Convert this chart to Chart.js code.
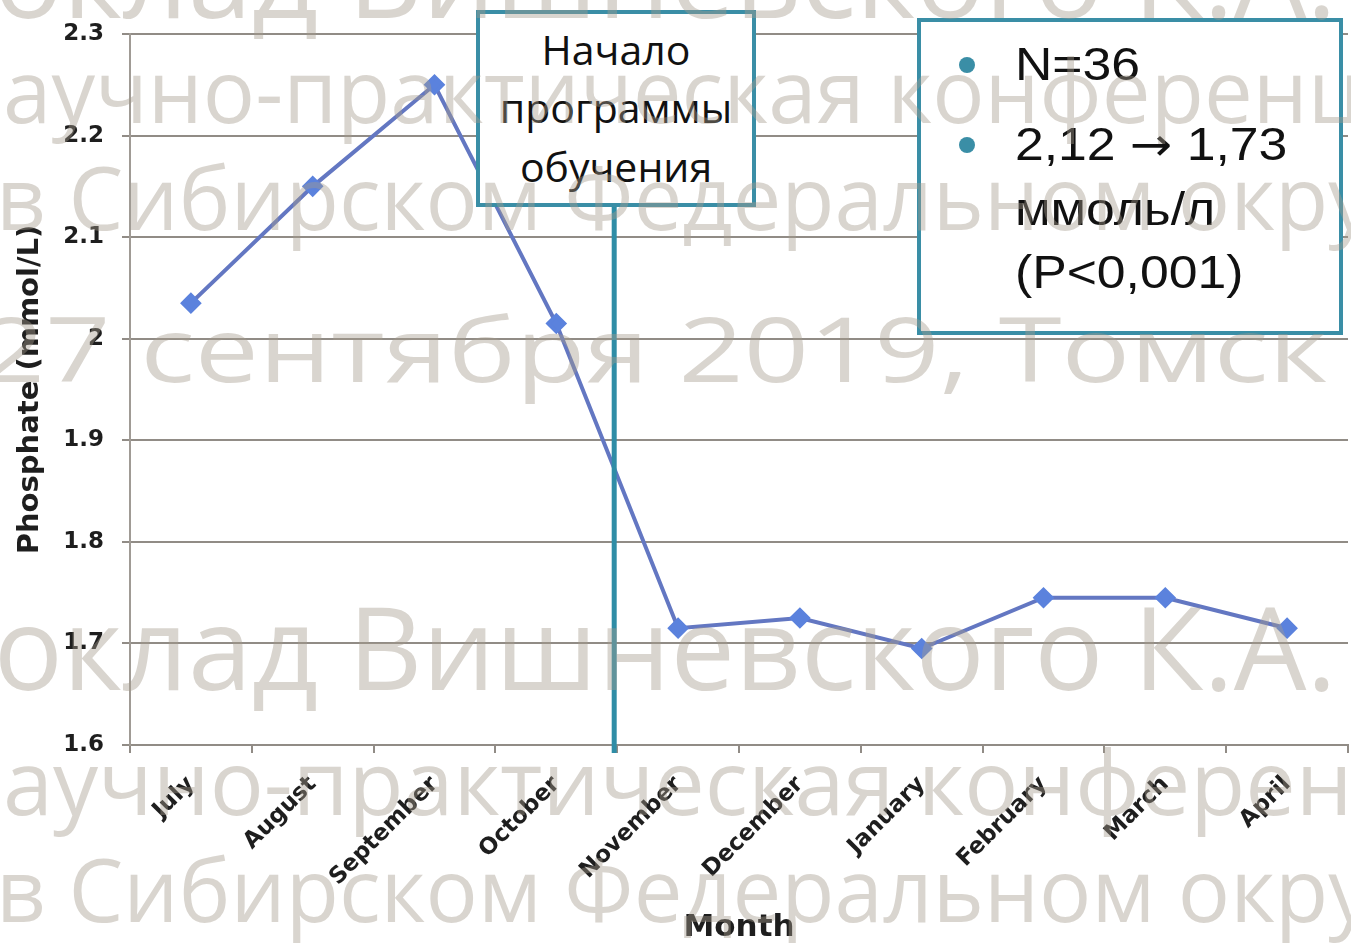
<!DOCTYPE html>
<html>
<head>
<meta charset="utf-8">
<script src="https://cdn.jsdelivr.net/npm/chart.js@4.4.1/dist/chart.umd.min.js"></script>
<style>
  html, body { margin: 0; padding: 0; background: #ffffff; overflow: hidden; width: 1351px; height: 947px; }
  #wrap { position: absolute; left: 0; top: 0; width: 1360px; height: 947px; }
  #overlay { position: absolute; left: 0; top: 0; width: 1351px; height: 947px; pointer-events: none; }
</style>
</head>
<body>
<div id="wrap"><canvas id="chart" width="1360" height="947"></canvas></div>
<svg id="overlay" width="1351" height="947" xmlns="http://www.w3.org/2000/svg">
  <!-- callout 1 -->
  <rect x="478" y="12" width="276" height="193" fill="#ffffff" stroke="#3a8ea6" stroke-width="4"/>
  <g font-family="'Open Sans', 'Noto Sans', sans-serif" font-size="41" fill="#111" text-anchor="middle">
    <text x="616" y="65">Начало</text>
    <text x="616" y="123">программы</text>
    <text x="616" y="182">обучения</text>
  </g>
  <!-- callout 2 -->
  <rect x="919" y="20" width="422" height="313" fill="#ffffff" stroke="#3a8ea6" stroke-width="4"/>
  <circle cx="967" cy="65" r="8" fill="#3a8ea6"/>
  <circle cx="967" cy="145" r="8" fill="#3a8ea6"/>
  <g font-family="'Liberation Sans', Arial, sans-serif" font-size="47" fill="#111" transform="translate(1015,0) scale(1.1,1)">
    <text x="0" y="80">N=36</text>
    <text x="0" y="160">2,12 <tspan font-family="'DejaVu Sans', sans-serif" font-size="46">→</tspan> 1,73</text>
    <text x="0" y="225">ммоль/л</text>
    <text x="0" y="288">(P&lt;0,001)</text>
  </g>
  <!-- watermark -->
  <g font-family="'Open Sans', 'Noto Sans', sans-serif" fill="rgb(165,155,140)" fill-opacity="0.42">
    <text x="-85" y="18" font-size="115">Доклад Вишневского К.А.</text>
    <text x="-52" y="123" font-size="87">научно-практическая конференция</text>
    <text x="-4" y="230" font-size="87">в Сибирском Федеральном округе</text>
    <text transform="translate(-20,382) scale(1.268,1)" x="0" y="0" font-size="90">27 сентября 2019, Томск</text>
    <text x="-85" y="690" font-size="115">Доклад Вишневского К.А.</text>
    <text x="-54" y="815" font-size="90">научно-практическая конференция</text>
    <text x="-4" y="922" font-size="87">в Сибирском Федеральном округе</text>
  </g>
</svg>
<script>
const months = ['July', 'August', 'September', 'October', 'November', 'December', 'January', 'February', 'March', 'April'];
const phosphate = [2.035, 2.15, 2.25, 2.015, 1.715, 1.725, 1.695, 1.745, 1.745, 1.715];
const yTicks = [1.6, 1.7, 1.8, 1.9, 2.0, 2.1, 2.2, 2.3];
const yTitle = 'Phosphate (mmol/L)';
const xTitle = 'Month';
const programStartAfterIndex = 3; // between October and November

const boldFont = "'DejaVu Sans', sans-serif";
const gridColor = '#918c86';

const startLine = {
  id: 'startLine',
  afterDatasetsDraw(chart) {
    const x = chart.scales.x;
    const px = (x.getPixelForValue(programStartAfterIndex) + x.getPixelForValue(programStartAfterIndex + 1)) / 2 - 3;
    const ctx = chart.ctx;
    ctx.save();
    ctx.strokeStyle = '#2f8da6';
    ctx.lineWidth = 5;
    ctx.beginPath();
    ctx.moveTo(px, 205);
    ctx.lineTo(px, chart.chartArea.bottom + 8);
    ctx.stroke();
    ctx.restore();
  }
};

new Chart(document.getElementById('chart'), {
  type: 'line',
  data: {
    labels: months,
    datasets: [{
      data: phosphate,
      borderColor: '#6377c2',
      borderWidth: 4,
      pointStyle: 'rectRot',
      pointRadius: 8,
      pointBackgroundColor: '#5b82dd',
      pointBorderColor: '#5b82dd',
      tension: 0
    }]
  },
  options: {
    responsive: false,
    animation: false,
    devicePixelRatio: 1,
    layout: { padding: { top: 34, right: 6, left: 0, bottom: 0 } },
    plugins: { legend: { display: false }, tooltip: { enabled: false } },
    scales: {
      x: {
        offset: true,
        afterFit(scale) { scale.height = 202; },
        grid: { offset: true, drawOnChartArea: false, drawTicks: true, tickLength: 8, color: gridColor, lineWidth: 2 },
        border: { display: true, color: gridColor, width: 2 },
        ticks: {
          autoSkip: false, minRotation: 45, maxRotation: 45, padding: 18,
          color: '#1e1e1e', font: { family: boldFont, size: 23, weight: 'bold' }
        },
        title: { display: true, text: xTitle, color: '#1e1e1e', padding: { top: 0, bottom: 0 },
          font: { family: boldFont, size: 31, weight: 'bold' } }
      },
      y: {
        min: 1.6, max: 2.3,
        afterFit(scale) { scale.width = 130; },
        afterBuildTicks(scale) { scale.ticks = yTicks.map(v => ({ value: v })); },
        grid: { color: gridColor, lineWidth: 2, tickLength: 8 },
        border: { display: true, color: '#a09b95', width: 2 },
        ticks: {
          padding: 18, color: '#1e1e1e',
          font: { family: boldFont, size: 23, weight: 'bold' },
          callback: (v) => (Math.round(v * 10) / 10).toString()
        },
        title: { display: true, text: yTitle, color: '#1e1e1e', padding: { top: 13, bottom: 0 },
          font: { family: boldFont, size: 29, weight: 'bold' } }
      }
    }
  },
  plugins: [startLine]
});
</script>
</body>
</html>
